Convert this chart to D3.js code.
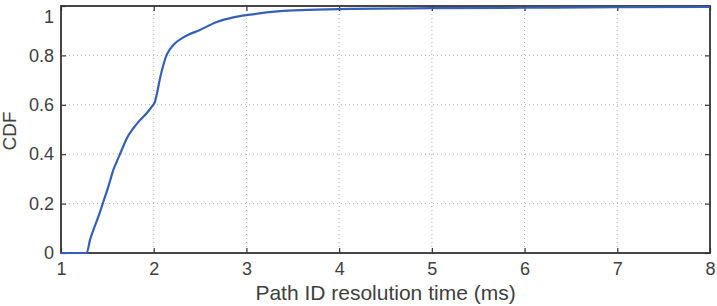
<!DOCTYPE html>
<html><head><meta charset="utf-8">
<script src="https://cdn.jsdelivr.net/npm/d3@7"></script>
<style>body{margin:0;background:#fff}svg{display:block}</style>
</head><body>
<svg id="c" width="717" height="306"></svg>
<script>
const xTicks = [1,2,3,4,5,6,7,8];
const yTicks = [0,0.2,0.4,0.6,0.8,1];
const yTickLabels = ["0","0.2","0.4","0.6","0.8","1"];
const timeMs = [1.0,1.277,1.313,1.349,1.403,1.457,1.51,1.564,1.601,1.655,1.709,1.78,1.852,1.924,1.978,2.014,2.039,2.068,2.104,2.14,2.176,2.23,2.32,2.499,2.679,2.859,3.039,3.219,3.398,3.758,4.117,5.0,6.0,7.0,8.0];
const cdf    = [0.0,0.0,0.053,0.093,0.147,0.208,0.268,0.336,0.370,0.417,0.464,0.505,0.538,0.566,0.592,0.613,0.653,0.707,0.761,0.802,0.825,0.849,0.873,0.903,0.935,0.954,0.965,0.974,0.980,0.985,0.988,0.991,0.993,0.995,0.996];

const svg = d3.select("#c");
const L=61, R=710, T=6, B=253;
const x = d3.scaleLinear().domain([1,8]).range([L,R]);
const y = d3.scaleLinear().domain([0,1]).range([B,T]);
const textCol = "#404040", axisCol = "#333";
const font = "Liberation Sans, Arial, sans-serif";

// grid
svg.append("g").selectAll("line").data(xTicks.slice(1,-1)).join("line")
  .attr("x1",d=>x(d)).attr("x2",d=>x(d)).attr("y1",T).attr("y2",B)
  .attr("stroke","#b0b0b0").attr("stroke-width",1).attr("stroke-dasharray","1,3");
svg.append("g").selectAll("line").data(yTicks.slice(1,-1)).join("line")
  .attr("y1",d=>y(d)).attr("y2",d=>y(d)).attr("x1",L).attr("x2",R)
  .attr("stroke","#b0b0b0").attr("stroke-width",1).attr("stroke-dasharray","1,3");

// axes (MATLAB style inner ticks)
const xb = svg.append("g").attr("transform",`translate(0,${B})`)
  .call(d3.axisBottom(x).tickValues(xTicks).tickSize(-5).tickPadding(9).tickFormat(d3.format("d")));
const xt = svg.append("g").attr("transform",`translate(0,${T})`)
  .call(d3.axisTop(x).tickValues(xTicks).tickSize(-5).tickFormat(""));
const yl = svg.append("g").attr("transform",`translate(${L},0)`)
  .call(d3.axisLeft(y).tickValues(yTicks).tickSize(-5).tickPadding(7).tickFormat((d,i)=>yTickLabels[i]));
const yr = svg.append("g").attr("transform",`translate(${R},0)`)
  .call(d3.axisRight(y).tickValues(yTicks).tickSize(-5).tickFormat(""));
[xb,xt,yl,yr].forEach(g=>{
  g.select(".domain").remove();
  g.selectAll(".tick line").attr("stroke",axisCol).attr("stroke-width",1.2);
  g.selectAll("text").attr("fill",textCol).style("font-family",font).style("font-size","18px");
});
// keep top label inside the picture
yl.selectAll(".tick").filter(d=>d===1).select("text").attr("dy","0.92em");
svg.append("rect").attr("x",L).attr("y",T).attr("width",R-L).attr("height",B-T)
  .attr("fill","none").attr("stroke",axisCol).attr("stroke-width",1.8);

// line (drawn over the frame, as in the reference)
svg.append("path").datum(timeMs.map((t,i)=>[t,cdf[i]]))
  .attr("fill","none").attr("stroke","#3560b8").attr("stroke-width",2.2)
  .attr("stroke-linejoin","round")
  .attr("d", d3.line().x(d=>x(d[0])).y(d=>y(d[1])).curve(d3.curveMonotoneX));

// labels
svg.append("text").attr("x",(L+R)/2).attr("y",300).attr("text-anchor","middle")
  .attr("fill",textCol).style("font-family",font).style("font-size","21px")
  .text("Path ID resolution time (ms)");
svg.append("text").attr("transform",`translate(16,131) rotate(-90)`).attr("text-anchor","middle")
  .attr("fill",textCol).style("font-family",font).style("font-size","19px")
  .text("CDF");
</script>
</body></html>
